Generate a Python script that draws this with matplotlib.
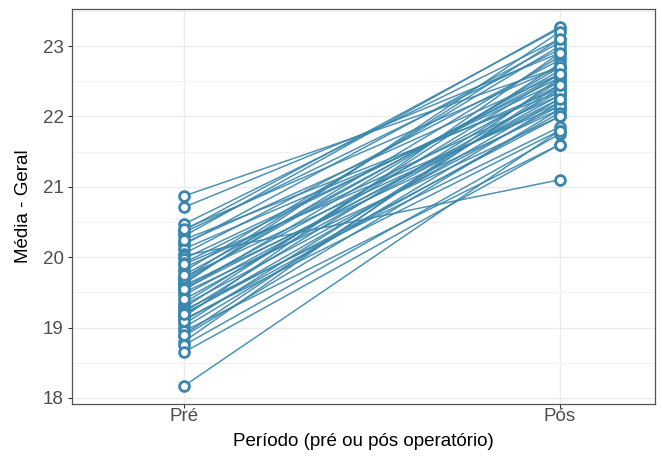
import matplotlib
matplotlib.use("Agg")
import matplotlib.pyplot as plt
from matplotlib.ticker import MultipleLocator

plt.rcParams['font.family'] = ['Liberation Sans', 'DejaVu Sans']

periodos = ["Pré", "Pós"]
pre = [20.87, 20.71, 20.47, 20.38, 20.35, 20.30, 20.20, 20.18, 20.12, 20.05,
       20.02, 19.98, 19.92, 19.85, 19.80, 19.72, 19.68, 19.65, 19.60, 19.57,
       19.53, 19.50, 19.46, 19.35, 19.32, 19.28, 19.25, 19.22, 19.18, 19.15,
       19.12, 19.05, 19.00, 18.95, 18.88, 18.80, 18.75, 18.65, 18.17, 19.40,
       19.62, 20.25, 19.90, 19.70, 19.10, 18.90, 20.40, 19.55, 19.20, 19.75]
pos = [22.70, 22.90, 23.10, 23.25, 22.95, 23.27, 22.60, 23.05, 22.40, 22.80,
       21.10, 22.50, 22.55, 22.30, 23.00, 22.20, 22.65, 22.85, 22.10, 22.45,
       22.70, 22.00, 22.35, 22.60, 22.15, 22.75, 21.85, 22.50, 22.25, 22.90,
       21.80, 22.40, 22.20, 21.60, 22.10, 22.55, 21.75, 21.60, 21.80, 22.30,
       23.20, 22.35, 22.15, 23.10, 22.05, 22.45, 22.70, 22.25, 22.00, 22.60]

cor = '#3a87ad'
fig = plt.figure(figsize=(6.62, 4.58), dpi=100)
ax = fig.add_axes([0.1088, 0.118, 0.880, 0.862])

for a, b in zip(pre, pos):
    ax.plot([0, 1], [a, b], color=cor, lw=1.1, alpha=0.9, zorder=2)
ax.scatter([0] * len(pre), pre, s=50, facecolors='white', edgecolors=cor,
           linewidths=2.0, zorder=3)
ax.scatter([1] * len(pos), pos, s=50, facecolors='white', edgecolors=cor,
           linewidths=2.0, zorder=3)

ax.set_xlim(-0.298, 1.253)
ax.set_ylim(17.915, 23.525)
ax.set_xticks([0, 1])
ax.set_xticklabels(periodos)
ax.yaxis.set_major_locator(MultipleLocator(1))
ax.yaxis.set_minor_locator(MultipleLocator(0.5))
ax.grid(True, which='major', color='#ebebeb', lw=1.0, zorder=0)
ax.grid(True, which='minor', axis='y', color='#f2f2f2', lw=0.8, zorder=0)
ax.set_axisbelow(True)
for s in ax.spines.values():
    s.set_color('#555555')
    s.set_linewidth(0.9)
ax.tick_params(axis='both', which='major', colors='#333333', labelsize=13.5,
               labelcolor='#4d4d4d', length=3, width=0.8, pad=3)
ax.tick_params(axis='x', pad=0)
ax.tick_params(axis='y', which='minor', length=0)
ax.set_xlabel("Período (pré ou pós operatório)", fontsize=13.5, labelpad=6)
ax.set_ylabel("Média - Geral", fontsize=13.5, labelpad=8)

fig.savefig("out.png", dpi=100)
